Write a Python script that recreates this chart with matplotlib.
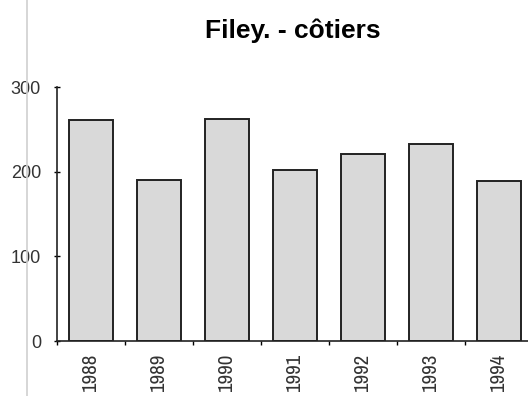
import matplotlib.pyplot as plt
from matplotlib import font_manager
import numpy as np

# values
years = ['1988', '1989', '1990', '1991', '1992', '1993', '1994']
values = [261, 190, 262, 202, 221, 233, 189]
yticks = [0, 100, 200, 300]
title = 'Filey. - côtiers'

# look for a narrow font for the year labels
narrow = None
for f in font_manager.fontManager.ttflist:
    if 'Narrow' in f.name or 'Condensed' in f.name:
        narrow = f.name
        break
if narrow is None:
    narrow = 'Liberation Sans'

fig = plt.figure(figsize=(5.28, 3.96), dpi=100)
ax = fig.add_axes([57 / 528, 1 - 341 / 396, 476 / 528, 254 / 396])

x = np.arange(len(years))
ax.bar(x, values, width=0.66, color='#d9d9d9', edgecolor='#222222', linewidth=1.4)

ax.set_xlim(-0.5, len(years) - 0.5)
ax.set_ylim(0, 300)
ax.set_yticks(yticks)
ax.set_yticklabels([str(t) for t in yticks], fontsize=13, color='#333333',
                   family=['Liberation Sans', 'DejaVu Sans'])
ax.tick_params(axis='y', direction='inout', length=5, width=1, pad=9)

# labels at bar centres, tick marks between categories
ax.set_xticks(x)
ax.set_xticklabels(years, rotation=90, fontsize=15, family=[narrow, 'DejaVu Sans'], color='#333333')
ax.tick_params(axis='x', length=0, pad=9)
ax.set_xticks(np.arange(len(years) + 1) - 0.5, minor=True)
ax.tick_params(axis='x', which='minor', direction='out', length=3, width=1)

for s in ['top', 'right']:
    ax.spines[s].set_visible(False)
for s in ['left', 'bottom']:
    ax.spines[s].set_linewidth(1.2)
    ax.spines[s].set_color('#222222')

fig.text(293 / 528, 1 - 31 / 396, title, ha='center', va='center', fontsize=19, fontweight='bold',
         family=['Liberation Sans', 'DejaVu Sans'])

# faint vertical line from the scan
fig.add_artist(plt.Line2D([27 / 528, 27 / 528], [0, 1], color='#d0d0d0', linewidth=1.2))

fig.savefig('out.png', dpi=100)
